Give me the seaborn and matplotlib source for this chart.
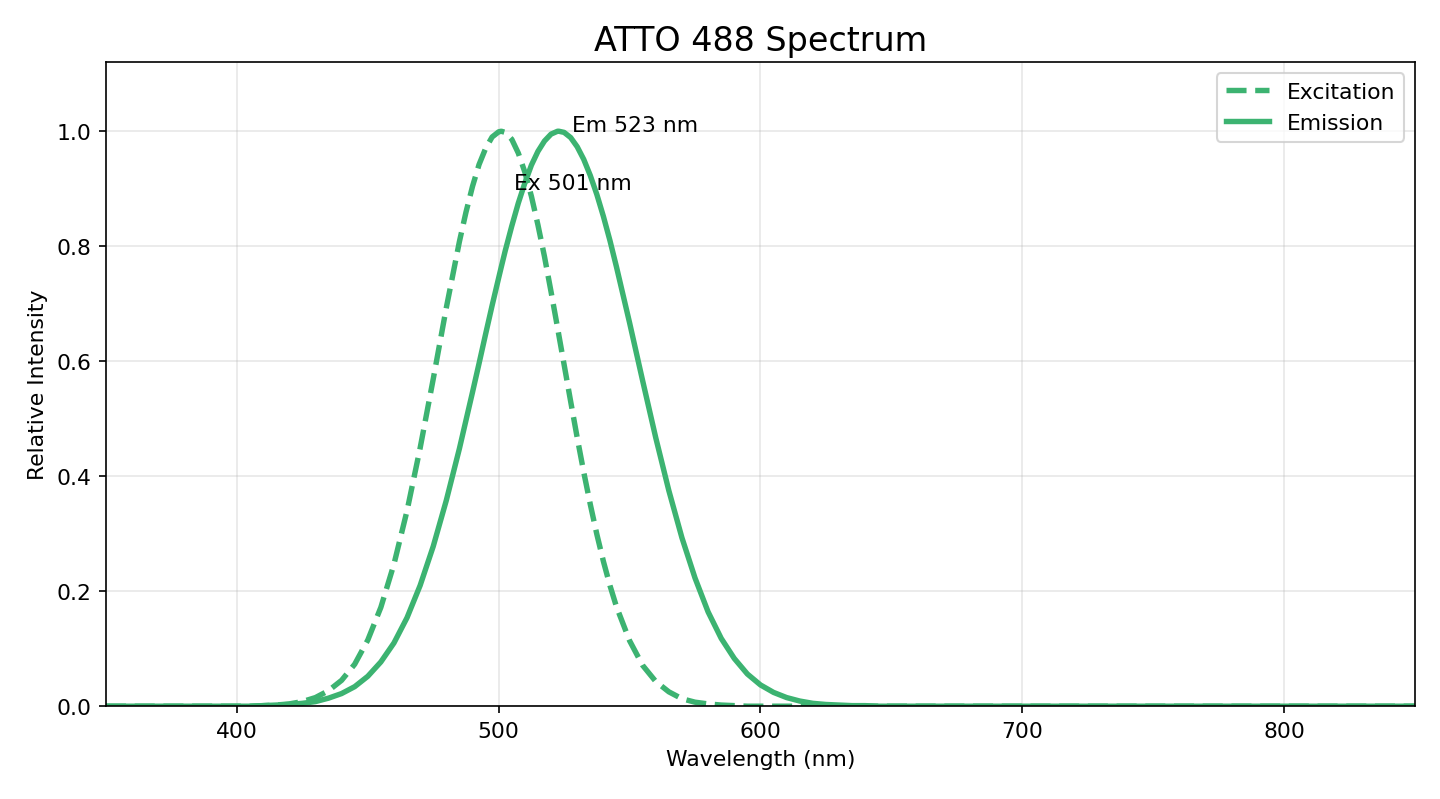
import numpy as np
import pandas as pd
import seaborn as sns
import matplotlib
matplotlib.use("Agg")
import matplotlib.pyplot as plt

# values (finer steps around the peaks)
wavelength = [350, 380, 400, 405, 410, 415, 420, 425, 430, 435, 440, 445, 450, 455,
              460, 465, 470, 475, 480,
              485, 487.5, 490, 492.5, 495, 497.5, 500, 501, 502.5, 505, 507.5,
              510, 512.5, 515, 517.5, 520, 522.5, 523, 525, 527.5, 530, 532.5,
              535, 537.5, 540, 542.5, 545,
              550, 555, 560, 565, 570, 575, 580, 585,
              590, 595, 600, 605, 610, 615, 620, 625, 630, 635, 640, 645, 650,
              700, 750, 800, 850]
excitation = [0.000, 0.000, 0.000, 0.000, 0.001, 0.002, 0.004, 0.008, 0.015, 0.027,
              0.045, 0.073, 0.115, 0.172, 0.247, 0.340, 0.449, 0.569, 0.693,
              0.808, 0.859, 0.904, 0.942, 0.970, 0.990, 0.999, 1.000, 0.998,
              0.986, 0.962, 0.929, 0.887, 0.837, 0.782, 0.721, 0.658, 0.645,
              0.594, 0.530, 0.467, 0.407, 0.351, 0.299, 0.252, 0.210, 0.173,
              0.114, 0.071, 0.043, 0.025, 0.013, 0.007, 0.004, 0.002,
              0.001, 0.000, 0.000, 0.000, 0.000, 0.000, 0.000, 0.000, 0.000,
              0.000, 0.000, 0.000, 0.000,
              0.000, 0.000, 0.000, 0.000]
emission = [0.000, 0.000, 0.000, 0.000, 0.001, 0.002, 0.003, 0.005, 0.008, 0.014,
            0.022, 0.034, 0.052, 0.077, 0.110, 0.154, 0.210, 0.278, 0.358,
            0.448, 0.497, 0.546, 0.596, 0.647, 0.697, 0.745, 0.764, 0.792,
            0.835, 0.875, 0.910, 0.941, 0.965, 0.983, 0.995, 1.000, 1.000,
            0.998, 0.989, 0.973, 0.951, 0.923, 0.890, 0.852, 0.810, 0.764,
            0.667, 0.566, 0.467, 0.375, 0.293, 0.223, 0.164, 0.118,
            0.083, 0.056, 0.037, 0.024, 0.015, 0.009, 0.005, 0.003, 0.002,
            0.001, 0.001, 0.000, 0.000,
            0.000, 0.000, 0.000, 0.000]
ex_peak = 501
em_peak = 523
color = "#3CB371"

df = pd.DataFrame({"wl": wavelength, "ex": excitation, "em": emission})

plt.rcParams["font.size"] = 10.5

fig, ax = plt.subplots(figsize=(9.6, 5.333), dpi=150)
sns.lineplot(data=df, x="wl", y="ex", ax=ax, color=color, linestyle="--",
             linewidth=2.6, label="Excitation")
sns.lineplot(data=df, x="wl", y="em", ax=ax, color=color, linestyle="-",
             linewidth=2.6, label="Emission")

ax.text(ex_peak + 5, 0.9, f"Ex {ex_peak} nm", fontsize=10.5)
ax.text(em_peak + 5, 1.0, f"Em {em_peak} nm", fontsize=10.5)

ax.set_xlim(350, 850)
ax.set_ylim(0, 1.12)
ax.set_xlabel("Wavelength (nm)")
ax.set_ylabel("Relative Intensity")
ax.set_title("ATTO 488 Spectrum", fontsize=16)
ax.grid(True, alpha=0.3)
ax.legend(loc="upper right", fontsize=10.5)

fig.subplots_adjust(left=0.0736, right=0.9826, bottom=0.116, top=0.921)
plt.savefig("out.png", dpi=150)
